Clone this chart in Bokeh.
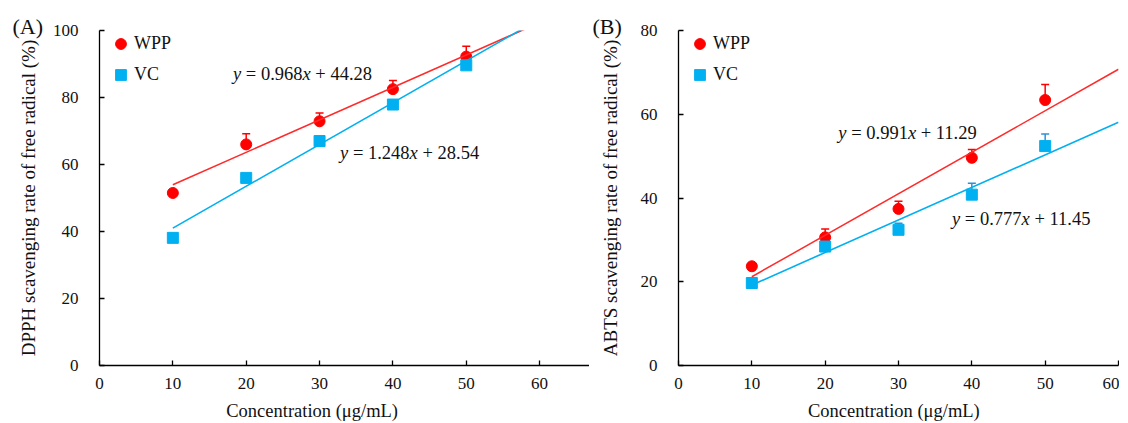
import numpy as np
from bokeh.plotting import figure
from bokeh.models import (ColumnDataSource, Whisker, TeeHead, Label, Legend,
                          LegendItem, FixedTicker, Range1d)
from bokeh.layouts import row
from bokeh.embed import file_html
from bokeh.resources import INLINE

# ---------------- data ----------------
conc = [10, 20, 30, 40, 50]
x_ticks = [0, 10, 20, 30, 40, 50, 60]

dpph_wpp = [51.5, 66.0, 72.9, 82.5, 92.2]
dpph_wpp_err = [1.0, 3.2, 2.5, 2.6, 3.1]
dpph_vc = [38.1, 56.0, 67.0, 77.9, 89.6]
dpph_vc_err = [0.8, 0.8, 1.4, 1.0, 0.8]

abts_wpp = [23.7, 30.6, 37.4, 49.6, 63.4]
abts_wpp_err = [0.6, 2.0, 1.8, 2.0, 3.7]
abts_vc = [19.7, 28.4, 32.4, 40.8, 52.4]
abts_vc_err = [0.5, 0.7, 1.6, 2.7, 2.9]

dpph_wpp_fit = (0.968, 44.28)
dpph_vc_fit = (1.248, 28.54)
abts_wpp_fit = (0.991, 11.29)
abts_vc_fit = (0.777, 11.45)

series_names = ["WPP", "VC"]

# ---------------- style ----------------
FONT = "Liberation Serif"
RED = "#ff0000"
RED_LINE = "#ff2a2a"
BLUE = "#00b0f0"
BLUE_ERR = "#2f8fd6"
TICK_FS = "17px"
TITLE_FS = "18.5px"
YTITLE_FS = "19px"
NB = "\u00a0"


def eq_labels(p, x, y, slope, icpt):
    # y = a x + b with italic y and x, built from separate text runs
    fs = 18.5
    parts = [("y", "italic", 0.0),
             (NB + "=" + NB + "%.3f" % slope, "normal", 0.444 * fs),
             ("x", "italic", 0.444 * fs + (0.25 * 2 + 0.564 + 2.25) * fs),
             (NB + "+" + NB + "%.2f" % icpt, "normal", (0.444 * 2 + 0.25 * 2 + 0.564 + 2.25) * fs)]
    for txt, style, off in parts:
        p.add_layout(Label(x=x, y=y, x_offset=off, text=txt, text_font=FONT,
                           text_font_style=style, text_font_size=TITLE_FS,
                           text_baseline="middle", text_align="left",
                           text_color="#111111"))


def make_panel(width, left, right, xmax, ymax, yticks, wpp, wpp_err, vc, vc_err,
               wpp_fit, vc_fit, xend, ytitle, ystandoff, xtitle, eq1_pos, eq2_pos,
               letter, letter_off):
    p = figure(width=width, height=423, output_backend="svg", toolbar_location=None,
               x_range=Range1d(0, xmax), y_range=Range1d(0, ymax),
               min_border_left=left, min_border_right=right,
               min_border_top=30, min_border_bottom=58)
    p.outline_line_color = None
    p.xgrid.visible = False
    p.ygrid.visible = False
    for ax in (p.xaxis[0], p.yaxis[0]):
        ax.axis_line_color = "#000000"
        ax.axis_line_width = 1.3
        ax.major_tick_line_color = "#000000"
        ax.major_tick_line_width = 1.3
        ax.major_tick_in = 5
        ax.major_tick_out = 0
        ax.minor_tick_line_color = None
        ax.major_label_text_font = FONT
        ax.major_label_text_font_size = TICK_FS
        ax.major_label_text_color = "#111111"
        ax.axis_label_text_font = FONT
        ax.axis_label_text_font_style = "normal"
        ax.axis_label_text_color = "#111111"
    p.xaxis.ticker = FixedTicker(ticks=x_ticks)
    p.yaxis.ticker = FixedTicker(ticks=yticks)
    p.xaxis.major_label_standoff = 12
    p.yaxis.major_label_standoff = 21
    p.yaxis.axis_label = ytitle
    p.yaxis.axis_label_text_font_size = YTITLE_FS
    p.yaxis.axis_label_standoff = ystandoff
    p.xaxis.axis_label = xtitle
    p.xaxis.axis_label_text_font_size = TITLE_FS
    p.xaxis.axis_label_standoff = 9

    # panel letter as the figure title
    p.title.text = letter
    p.title.text_font = FONT
    p.title.text_font_size = "22px"
    p.title.text_font_style = "normal"
    p.title.text_color = "#111111"
    p.title.align = "left"
    p.title.vertical_align = "bottom"
    p.title.offset = letter_off
    p.title.standoff = -16

    src_w = ColumnDataSource(dict(x=conc, y=wpp, up=[a + b for a, b in zip(wpp, wpp_err)]))
    src_v = ColumnDataSource(dict(x=conc, y=vc, up=[a + b for a, b in zip(vc, vc_err)]))

    p.add_layout(Whisker(base="x", lower="y", upper="up", source=src_w, dimension="height",
                         line_color=RED, line_width=1.5, lower_head=None,
                         upper_head=TeeHead(size=8, line_color=RED, line_width=1.5)))
    p.add_layout(Whisker(base="x", lower="y", upper="up", source=src_v, dimension="height",
                         line_color=BLUE_ERR, line_width=1.5, lower_head=None,
                         upper_head=TeeHead(size=8, line_color=BLUE_ERR, line_width=1.5)))

    rw = p.scatter("x", "y", source=src_w, marker="circle", size=11,
                   fill_color=RED, line_color=RED)
    rv = p.scatter("x", "y", source=src_v, marker="square", size=11,
                   fill_color=BLUE, line_color=BLUE)

    xs = np.array([conc[0], xend], dtype=float)
    p.line(xs, wpp_fit[0] * xs + wpp_fit[1], line_color=RED_LINE, line_width=1.5)
    p.line(xs, vc_fit[0] * xs + vc_fit[1], line_color=BLUE, line_width=1.6)

    legend = Legend(items=[LegendItem(label=series_names[0], renderers=[rw]),
                           LegendItem(label=series_names[1], renderers=[rv])],
                    location=(8, 277), glyph_width=27, glyph_height=27, spacing=4,
                    padding=0, margin=0, label_standoff=-12,
                    border_line_color=None, background_fill_alpha=0,
                    label_text_font=FONT, label_text_font_size="18px",
                    label_text_color="#111111")
    p.add_layout(legend)

    eq_labels(p, eq1_pos[0], eq1_pos[1], *wpp_fit)
    eq_labels(p, eq2_pos[0], eq2_pos[1], *vc_fit)
    return p


xtitle = "Concentration (\u03bcg/mL)"

# panel A: frame page x 99..589, y 30..365
pa = make_panel(589, 99, 0, 66.8, 100, [0, 20, 40, 60, 80, 100],
                dpph_wpp, dpph_wpp_err, dpph_vc, dpph_vc_err,
                dpph_wpp_fit, dpph_vc_fit, 66.8,
                "DPPH scavenging rate of free radical (%)", 11, xtitle + NB * 14,
                (18.2, 87.1), (32.8, 63.4), "(A)", -87)

# panel B: frame page x 678..1118, y 30..365
pb = make_panel(530, 89, 1, 60, 80, [0, 20, 40, 60, 80],
                abts_wpp, abts_wpp_err, abts_vc, abts_vc_err,
                abts_wpp_fit, abts_vc_fit, 60,
                "ABTS scavenging rate of free radical (%)", 17, xtitle + NB * 2,
                (21.8, 55.6), (37.3, 35.0), "(B)", -86)

layout = row(pa, pb)
open("out.html", "w").write(file_html(layout, INLINE))
